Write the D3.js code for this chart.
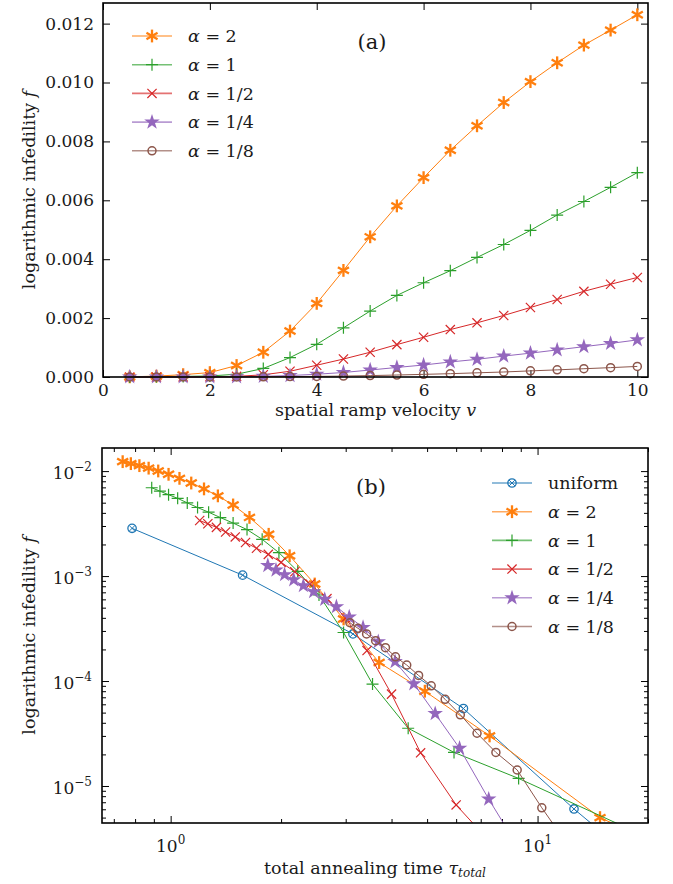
<!DOCTYPE html>
<html>
<head>
<meta charset="UTF-8">
<title>logarithmic infidelity</title>
<script src="https://cdn.jsdelivr.net/npm/d3@7"></script>
<style>
  body { margin: 0; background: #fff; }
  text { font-family: "DejaVu Serif", serif; fill: #1a1a1a; }
</style>
</head>
<body>
<script>
// ---- data: panel (a), f against ramp velocity v ----
const velocity = [0.5, 1, 1.5, 2, 2.5, 3, 3.5, 4, 4.5, 5, 5.5, 6, 6.5, 7, 7.5, 8, 8.5, 9, 9.5, 10];
const fAlpha2  = [0.000005, 0.00003, 0.00008, 0.00015, 0.00039, 0.00084, 0.00156, 0.00250, 0.00362, 0.00476,
                  0.00581, 0.00677, 0.00770, 0.00853, 0.00932, 0.01003, 0.01067, 0.01127, 0.01178, 0.01230];
const fAlpha1  = [0.0000039, 0.0000118, 0.0000209, 0.0000355, 0.0000935, 0.00029, 0.00066, 0.00111, 0.00167, 0.00224,
                  0.00277, 0.00320, 0.00361, 0.00406, 0.00450, 0.00498, 0.00550, 0.00596, 0.00644, 0.00694];
const fAlpha12 = [0.0000002, 0.0000005, 0.0000022, 0.0000066, 0.0000207, 0.000075, 0.000195, 0.00040, 0.00061, 0.00084,
                  0.00110, 0.00135, 0.00161, 0.00184, 0.00209, 0.00236, 0.00263, 0.00291, 0.00315, 0.00338];
const fAlpha14 = [0.0000001, 0.0000003, 0.0000008, 0.0000021, 0.0000075, 0.0000229, 0.0000489, 0.000094, 0.000153, 0.000237,
                  0.000324, 0.000407, 0.00051, 0.00060, 0.00071, 0.00081, 0.00092, 0.00103, 0.00114, 0.00126];
const fAlpha18 = [0.00000005, 0.0000001, 0.0000003, 0.000001, 0.0000025, 0.0000062, 0.0000142, 0.0000209, 0.0000318, 0.0000477,
                  0.0000669, 0.000090, 0.000113, 0.000142, 0.000170, 0.000208, 0.000242, 0.000281, 0.000318, 0.000359];

// ---- data: panel (b), total annealing time for the same runs (same order as velocity) ----
const tauAlpha2  = [14.8, 7.4, 4.93, 3.7, 2.96, 2.47, 2.11, 1.85, 1.64, 1.48, 1.345, 1.233, 1.138, 1.057, 0.987, 0.925, 0.871, 0.822, 0.779, 0.74];
const tauAlpha1  = [17.76, 8.88, 5.92, 4.44, 3.55, 2.96, 2.537, 2.22, 1.973, 1.776, 1.615, 1.48, 1.366, 1.269, 1.184, 1.11, 1.045, 0.987, 0.935, 0.888];
const tauAlpha12 = [24, 12, 8, 6, 4.8, 4, 3.43, 3, 2.667, 2.4, 2.18, 2, 1.846, 1.714, 1.6, 1.5, 1.412, 1.333, 1.263, 1.2];
const tauAlpha14 = [36.8, 18.4, 12.27, 9.2, 7.36, 6.13, 5.26, 4.6, 4.09, 3.68, 3.345, 3.067, 2.83, 2.63, 2.453, 2.3, 2.165, 2.044, 1.937, 1.84];
const tauAlpha18 = [61.6, 30.8, 20.5, 15.4, 12.32, 10.27, 8.8, 7.7, 6.84, 6.16, 5.6, 5.13, 4.74, 4.4, 4.1, 3.85, 3.62, 3.42, 3.24, 3.08];
// slowest alpha=2 run only shows in (b)
const tauAlpha2Slow = [29.6];
const fAlpha2Slow   = [0.00000165];
// uniform schedule, (b) only
const tauUniform = [0.785, 1.571, 3.14, 6.28, 12.57, 25.1];
const fUniform   = [0.00285, 0.00102, 0.000281, 0.0000547, 0.00000604, 0.0000008];

const alphaLabels = ["2", "1", "1/2", "1/4", "1/8"];
const topTicksX = [0, 2, 4, 6, 8, 10];
const topTicksY = [0, 0.002, 0.004, 0.006, 0.008, 0.010, 0.012];
const logTicksX = [0, 1];          // exponents
const logTicksY = [-2, -3, -4, -5];

const colors = {uniform: "#1f77b4", a2: "#ff7f0e", a1: "#2ca02c", a12: "#d62728", a14: "#9467bd", a18: "#8c564b"};

const series = [
  {key: "a2",  label: alphaLabels[0], marker: "asterisk", f: fAlpha2,  tau: tauAlpha2},
  {key: "a1",  label: alphaLabels[1], marker: "plus",     f: fAlpha1,  tau: tauAlpha1},
  {key: "a12", label: alphaLabels[2], marker: "x",        f: fAlpha12, tau: tauAlpha12},
  {key: "a14", label: alphaLabels[3], marker: "star",     f: fAlpha14, tau: tauAlpha14},
  {key: "a18", label: alphaLabels[4], marker: "circle",   f: fAlpha18, tau: tauAlpha18}
];

const W = 673, H = 884;
const FONT = "DejaVu Serif, serif";
const svg = d3.select("body").append("svg").attr("width", W).attr("height", H);

// draw one marker shape centred on 0,0
function drawMarker(g, type, color) {
  if (type === "asterisk") {
    const r = 6.4;
    [90, 30, 150].forEach(a => {
      const c = Math.cos(a * Math.PI / 180) * r, s = Math.sin(a * Math.PI / 180) * r;
      g.append("line").attr("x1", -c).attr("y1", -s).attr("x2", c).attr("y2", s)
        .attr("stroke", color).attr("stroke-width", 2.3);
    });
  } else if (type === "plus") {
    const r = 6;
    g.append("path").attr("d", `M${-r},0H${r}M0,${-r}V${r}`).attr("stroke", color).attr("stroke-width", 1.2);
  } else if (type === "x") {
    const r = 4.6;
    g.append("path").attr("d", `M${-r},${-r}L${r},${r}M${-r},${r}L${r},${-r}`).attr("stroke", color).attr("stroke-width", 1.2);
  } else if (type === "star") {
    g.append("path").attr("d", d3.symbol(d3.symbolStar, 75)()).attr("fill", color);
  } else if (type === "circle") {
    g.append("circle").attr("r", 4).attr("fill", "none").attr("stroke", color).attr("stroke-width", 1.5);
  } else if (type === "otimes") {
    const r = 4.2, k = r * 0.7;
    g.append("circle").attr("r", r).attr("fill", "none").attr("stroke", color).attr("stroke-width", 1.3);
    g.append("path").attr("d", `M${-k},${-k}L${k},${k}M${-k},${k}L${k},${-k}`).attr("stroke", color).attr("stroke-width", 1);
  }
}

function alphaText(t, label) {
  t.append("tspan").attr("font-style", "italic").text("α");
  t.append("tspan").text(" = " + label);
}

// ================= panel (a) =================
const A = {left: 103, right: 648, top: 3, bottom: 377};
const xA = d3.scaleLinear().domain([0, 10.2]).range([A.left, A.right]);
const yA = d3.scaleLinear().domain([0, 0.0127]).range([A.bottom, A.top]);
const gA = svg.append("g");

gA.append("g").attr("transform", `translate(0,${A.bottom})`)
  .call(d3.axisBottom(xA).tickValues(topTicksX).tickSize(-7).tickSizeOuter(0).tickPadding(7).tickFormat(d3.format("d")));
gA.append("g").attr("transform", `translate(0,${A.top})`)
  .call(d3.axisTop(xA).tickValues(topTicksX).tickSize(-7).tickSizeOuter(0).tickFormat(""));
gA.append("g").attr("transform", `translate(${A.left},0)`)
  .call(d3.axisLeft(yA).tickValues(topTicksY).tickSize(-7).tickSizeOuter(0).tickPadding(9).tickFormat(d3.format(".3f")));
gA.append("g").attr("transform", `translate(${A.right},0)`)
  .call(d3.axisRight(yA).tickValues(topTicksY).tickSize(-7).tickSizeOuter(0).tickFormat(""));

series.forEach(s => {
  const pts = velocity.map((v, i) => [v, s.f[i]]);
  gA.append("path").datum(pts)
    .attr("fill", "none").attr("stroke", colors[s.key]).attr("stroke-width", 1)
    .attr("d", d3.line().x(d => xA(d[0])).y(d => yA(d[1])));
  gA.selectAll(null).data(pts).enter().append("g")
    .attr("transform", d => `translate(${xA(d[0])},${yA(d[1])})`)
    .each(function () { drawMarker(d3.select(this), s.marker, colors[s.key]); });
});

// legend (a)
series.forEach((s, i) => {
  const y = 36 + i * 28.7;
  const lg = gA.append("g").attr("transform", `translate(132,${y})`);
  lg.append("line").attr("x1", 0).attr("x2", 40).attr("stroke", colors[s.key]).attr("stroke-width", 1.6).attr("opacity", 0.65);
  drawMarker(lg.append("g").attr("transform", "translate(20,0)"), s.marker, colors[s.key]);
  alphaText(lg.append("text").attr("x", 56).attr("dy", "0.35em").attr("font-size", 17.5), s.label);
});
gA.append("text").attr("x", 372).attr("y", 42).attr("dy", "0.35em").attr("text-anchor", "middle")
  .attr("font-size", 21).text("(a)");

// spines
gA.append("rect").attr("x", A.left).attr("y", A.top).attr("width", A.right - A.left).attr("height", A.bottom - A.top)
  .attr("fill", "none").attr("stroke", "#000").attr("stroke-width", 1.6);

// axis titles (a)
const xtA = gA.append("text").attr("x", (A.left + A.right) / 2).attr("y", 416).attr("text-anchor", "middle").attr("font-size", 17.5);
xtA.append("tspan").text("spatial ramp velocity ");
xtA.append("tspan").attr("font-style", "italic").text("v");
const ytA = gA.append("text").attr("transform", `translate(35,${(A.top + A.bottom) / 2}) rotate(-90)`)
  .attr("text-anchor", "middle").attr("font-size", 17.5);
ytA.append("tspan").text("logarithmic infedility ");
ytA.append("tspan").attr("font-style", "italic").text("f");

// ================= panel (b) =================
const B = {left: 102, right: 648, top: 448, bottom: 823};
const xB = d3.scaleLog().domain([0.65, 20]).range([B.left, B.right]);
const yB = d3.scaleLog().domain([4.44e-6, 0.0166]).range([B.bottom, B.top]);
const gB = svg.append("g");

svg.append("defs").append("clipPath").attr("id", "clipB")
  .append("rect").attr("x", B.left).attr("y", B.top).attr("width", B.right - B.left).attr("height", B.bottom - B.top);

// minor ticks
const minorX = [0.7, 0.8, 0.9, 2, 3, 4, 5, 6, 7, 8, 9, 20].filter(v => v >= 0.65 && v <= 20);
const minorY = [];
[-6, -5, -4, -3, -2].forEach(e => { for (let k = 2; k <= 9; k++) { const v = k * Math.pow(10, e); if (v >= 4.44e-6 && v <= 0.0166) minorY.push(v); } });
const majorX = logTicksX.map(e => Math.pow(10, e));
const majorY = logTicksY.map(e => Math.pow(10, e));

[[d3.axisBottom, B.bottom], [d3.axisTop, B.top]].forEach(([ax, y]) => {
  gB.append("g").attr("transform", `translate(0,${y})`).call(ax(xB).tickValues(majorX).tickSize(-7).tickSizeOuter(0).tickFormat(""));
  gB.append("g").attr("transform", `translate(0,${y})`).call(ax(xB).tickValues(minorX).tickSize(-4).tickSizeOuter(0).tickFormat(""));
});
[[d3.axisLeft, B.left], [d3.axisRight, B.right]].forEach(([ax, x]) => {
  gB.append("g").attr("transform", `translate(${x},0)`).call(ax(yB).tickValues(majorY).tickSize(-7).tickSizeOuter(0).tickFormat(""));
  gB.append("g").attr("transform", `translate(${x},0)`).call(ax(yB).tickValues(minorY).tickSize(-4).tickSizeOuter(0).tickFormat(""));
});

// log tick labels
logTicksX.forEach(e => {
  const t = gB.append("text").attr("x", xB(Math.pow(10, e))).attr("y", 852).attr("text-anchor", "middle").attr("font-size", 17);
  t.append("tspan").text("10");
  t.append("tspan").attr("font-size", 12).attr("dy", -8).text(String(e));
});
logTicksY.forEach(e => {
  const t = gB.append("text").attr("x", 92).attr("y", yB(Math.pow(10, e)) + 8).attr("text-anchor", "end").attr("font-size", 17);
  t.append("tspan").text("10");
  t.append("tspan").attr("font-size", 12).attr("dy", -8).text("−" + String(-e));
});

const plotB = gB.append("g").attr("clip-path", "url(#clipB)");
const bSeries = [{key: "uniform", marker: "otimes", tau: tauUniform, f: fUniform}]
  .concat(series.map(s => ({key: s.key, marker: s.marker, tau: s.tau, f: s.f})));
bSeries.forEach(s => {
  let pts = s.tau.map((t, i) => [t, s.f[i]]);
  if (s.key === "a2") pts = tauAlpha2Slow.map((t, i) => [t, fAlpha2Slow[i]]).concat(pts);
  pts.sort((a, b) => a[0] - b[0]);
  plotB.append("path").datum(pts)
    .attr("fill", "none").attr("stroke", colors[s.key]).attr("stroke-width", 1)
    .attr("d", d3.line().x(d => xB(d[0])).y(d => yB(d[1])));
  plotB.selectAll(null).data(pts).enter().append("g")
    .attr("transform", d => `translate(${xB(d[0])},${yB(d[1])})`)
    .each(function () { drawMarker(d3.select(this), s.marker, colors[s.key]); });
});

// legend (b)
const legB = [{key: "uniform", marker: "otimes", label: null}].concat(series);
legB.forEach((s, i) => {
  const y = 483 + i * 28.7;
  const lg = gB.append("g").attr("transform", `translate(492,${y})`);
  lg.append("line").attr("x1", 0).attr("x2", 40).attr("stroke", colors[s.key]).attr("stroke-width", 1.6).attr("opacity", 0.65);
  drawMarker(lg.append("g").attr("transform", "translate(20,0)"), s.marker, colors[s.key]);
  const t = lg.append("text").attr("x", 56).attr("dy", "0.35em").attr("font-size", 17.5);
  if (s.label === null) t.text("uniform"); else alphaText(t, s.label);
});
gB.append("text").attr("x", 371).attr("y", 487).attr("dy", "0.35em").attr("text-anchor", "middle")
  .attr("font-size", 21).text("(b)");

gB.append("rect").attr("x", B.left).attr("y", B.top).attr("width", B.right - B.left).attr("height", B.bottom - B.top)
  .attr("fill", "none").attr("stroke", "#000").attr("stroke-width", 1.6);

const xtB = gB.append("text").attr("x", (B.left + B.right) / 2).attr("y", 874).attr("text-anchor", "middle").attr("font-size", 17.5);
xtB.append("tspan").text("total annealing time ");
xtB.append("tspan").attr("font-style", "italic").text("τ");
xtB.append("tspan").attr("font-style", "italic").attr("font-size", 12).attr("dy", 3).text("total");
const ytB = gB.append("text").attr("transform", `translate(35,${(B.top + B.bottom) / 2}) rotate(-90)`)
  .attr("text-anchor", "middle").attr("font-size", 17.5);
ytB.append("tspan").text("logarithmic infedility ");
ytB.append("tspan").attr("font-style", "italic").text("f");

// axis text styling
svg.selectAll(".tick text").attr("font-size", 17).attr("font-family", FONT).attr("fill", "#1a1a1a");
svg.selectAll(".domain").remove();
svg.selectAll(".tick line").attr("stroke", "#000").attr("stroke-width", 1);
</script>
</body>
</html>
